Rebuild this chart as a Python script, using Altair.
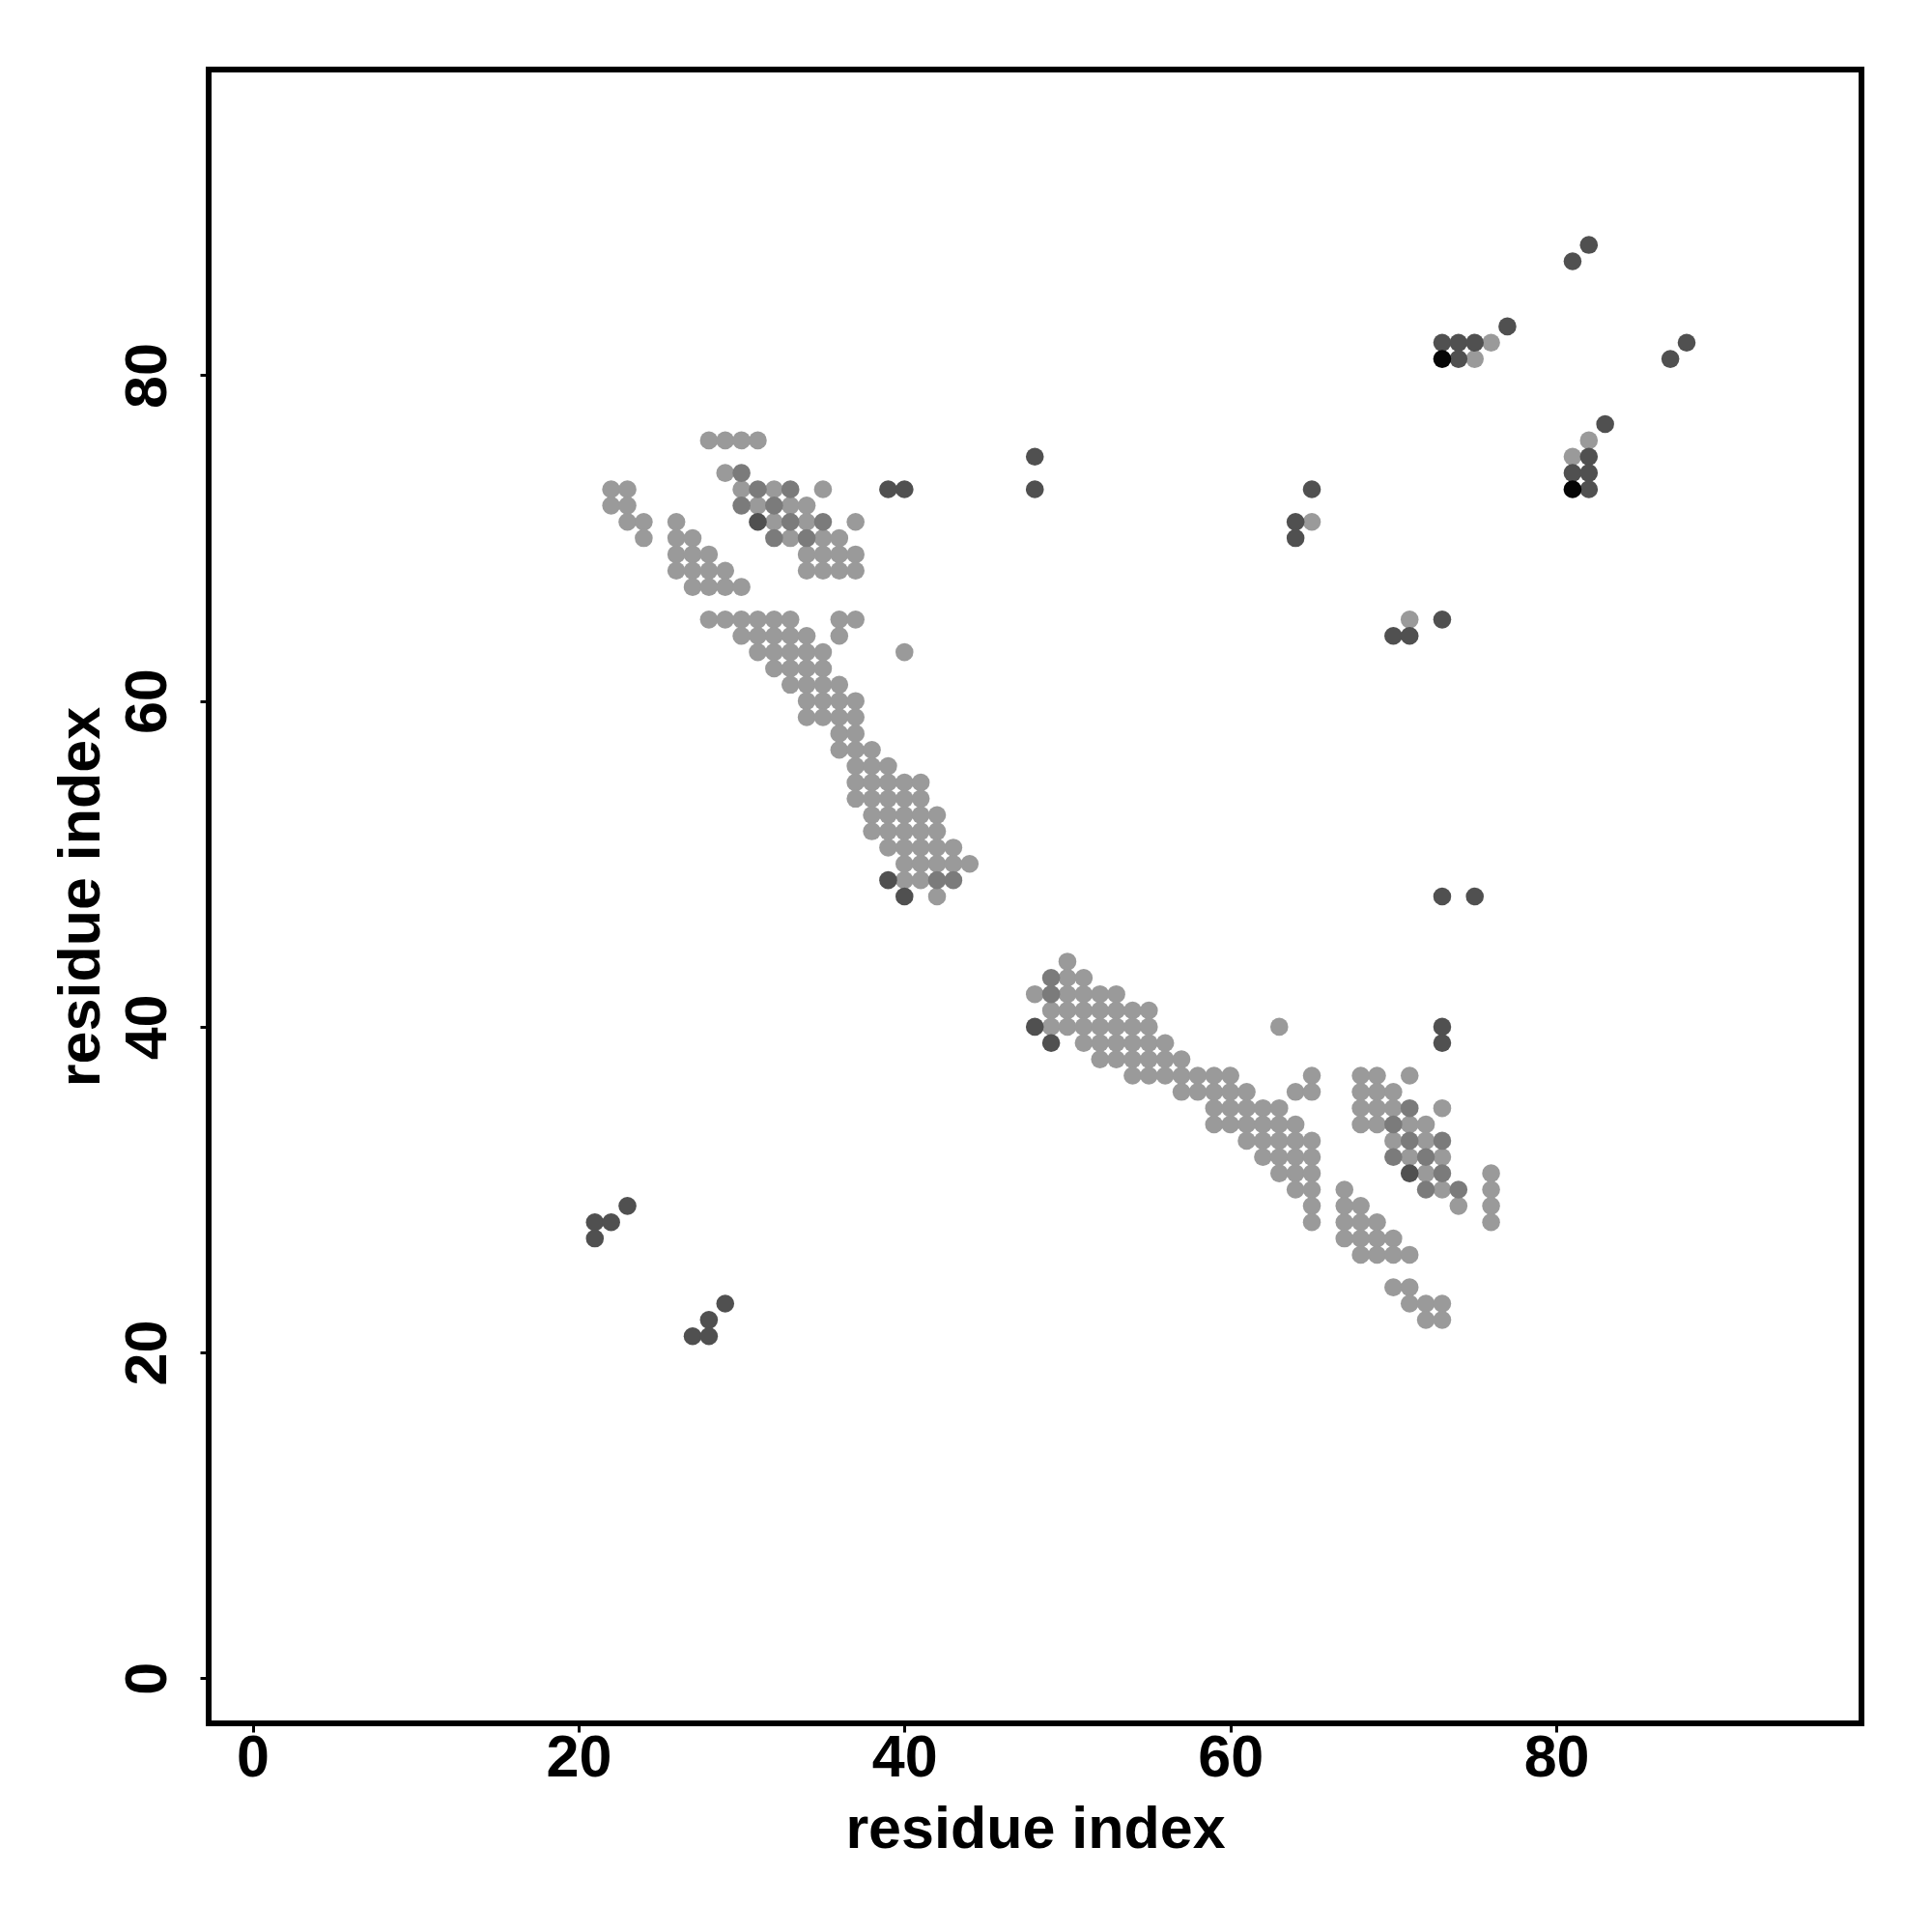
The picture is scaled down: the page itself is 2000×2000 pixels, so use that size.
import altair as alt
import pandas as pd

# Contact map points: {y: [x, ...]} grouped by shade
LIGHT = {
    82: [76], 81: [75], 76: [28, 29, 30, 31, 82], 75: [81], 74: [29],
    73: [22, 23, 30, 32, 35], 72: [22, 23, 31, 33, 34],
    71: [23, 24, 26, 32, 34, 37, 65], 70: [24, 26, 27, 33, 35, 36],
    69: [26, 27, 28, 34, 35, 36, 37], 68: [26, 27, 28, 29, 34, 35, 36, 37],
    67: [27, 28, 29, 30], 65: [28, 29, 30, 31, 32, 33, 36, 37, 71],
    64: [30, 31, 32, 33, 34, 36], 63: [31, 32, 33, 34, 35, 40],
    62: [32, 33, 34, 35], 61: [33, 34, 35, 36], 60: [34, 35, 36, 37],
    59: [34, 35, 36, 37], 58: [36, 37], 57: [36, 37, 38], 56: [37, 38, 39],
    55: [37, 38, 39, 40, 41], 54: [37, 38, 39, 40, 41],
    53: [38, 39, 40, 41, 42], 52: [38, 39, 40, 41, 42],
    51: [39, 40, 41, 42, 43], 50: [40, 41, 42, 43, 44], 49: [40, 41],
    48: [42], 44: [50], 43: [50, 51], 42: [48, 50, 51, 52, 53],
    41: [49, 50, 51, 52, 53, 54, 55], 40: [49, 50, 51, 52, 53, 54, 55, 63],
    39: [51, 52, 53, 54, 55, 56], 38: [52, 53, 54, 55, 56, 57],
    37: [54, 55, 56, 57, 58, 59, 60, 65, 68, 69, 71],
    36: [57, 58, 59, 60, 61, 64, 65, 68, 69, 70],
    35: [59, 60, 61, 62, 63, 68, 69, 70, 73],
    34: [59, 60, 61, 62, 63, 64, 68, 69, 71, 72],
    33: [61, 62, 63, 64, 65, 70, 72], 32: [62, 63, 64, 65, 71, 73],
    31: [63, 64, 65, 72, 76], 30: [64, 65, 67, 73, 76],
    29: [65, 67, 68, 74, 76], 28: [65, 67, 68, 69, 76],
    27: [67, 68, 69, 70], 26: [68, 69, 70, 71], 24: [70, 71],
    23: [71, 72, 73], 22: [72, 73],
}
MID = {
    74: [30], 73: [31, 33], 72: [30, 32], 71: [33, 35], 70: [32, 34],
    49: [42, 43], 43: [49], 42: [49], 35: [71], 34: [70],
    33: [71, 73], 32: [70, 72], 31: [73], 30: [72, 74],
}
DARK = {
    88: [82], 87: [81], 83: [77], 82: [73, 74, 75, 88], 81: [74, 87],
    77: [83], 75: [48, 82], 74: [81, 82], 73: [39, 40, 48, 65, 82],
    71: [31, 64], 70: [64], 65: [73], 64: [70, 71], 49: [39],
    48: [40, 73, 75], 40: [48, 73], 39: [49, 73], 31: [71], 29: [23],
    28: [21, 22], 27: [21], 23: [29], 22: [28], 21: [27, 28],
}
BLACK = {81: [73], 73: [81]}

SHADES = ["light", "mid", "dark", "black"]
COLORS = ["#9a9a9a", "#7b7b7b", "#505050", "#050505"]
TICKS = [0, 20, 40, 60, 80]

rows = []
for order, (name, table) in enumerate(zip(SHADES, [LIGHT, MID, DARK, BLACK])):
    for yv, xs in table.items():
        for xv in xs:
            rows.append({"x": xv, "y": yv, "shade": name, "order": order})
df = pd.DataFrame(rows)

FONT = "Liberation Sans"
axis_common = dict(
    values=TICKS, grid=False, domain=False, ticks=True, tickSize=9,
    tickWidth=3, tickColor="black", labelFont=FONT, labelFontSize=61,
    labelFontWeight="bold", labelColor="black", titleFont=FONT,
    titleFontSize=61, titleFontWeight="bold", titleColor="black",
)

chart = alt.Chart(df).mark_circle(size=345, opacity=1).encode(
    x=alt.X("x:Q", title="residue index",
            scale=alt.Scale(domain=[-2.7, 98.73], nice=False, zero=False),
            axis=alt.Axis(**axis_common, labelPadding=45,
                          labelBaseline="alphabetic", titleY=128,
                          titleBaseline="alphabetic")),
    y=alt.Y("y:Q", title="residue index",
            scale=alt.Scale(domain=[-2.77, 98.77], nice=False, zero=False),
            axis=alt.Axis(**axis_common, labelAngle=270, labelAlign="center",
                          labelBaseline="alphabetic", labelPadding=36,
                          titleAngle=270, titleAlign="center",
                          titleBaseline="alphabetic", titleX=-114, titleY=856)),
    color=alt.Color("shade:N", scale=alt.Scale(domain=SHADES, range=COLORS),
                    legend=None),
    order=alt.Order("order:Q"),
).properties(
    width=1711, height=1712,
    background="white",
    autosize=alt.AutoSizeParams(type="none"),
    padding={"left": 208, "top": 64, "right": 60, "bottom": 180},
).configure_view(
    stroke="black", strokeWidth=6, fill="white"
)

chart.save("out.html", embed_options={"renderer": "svg", "actions": False})
